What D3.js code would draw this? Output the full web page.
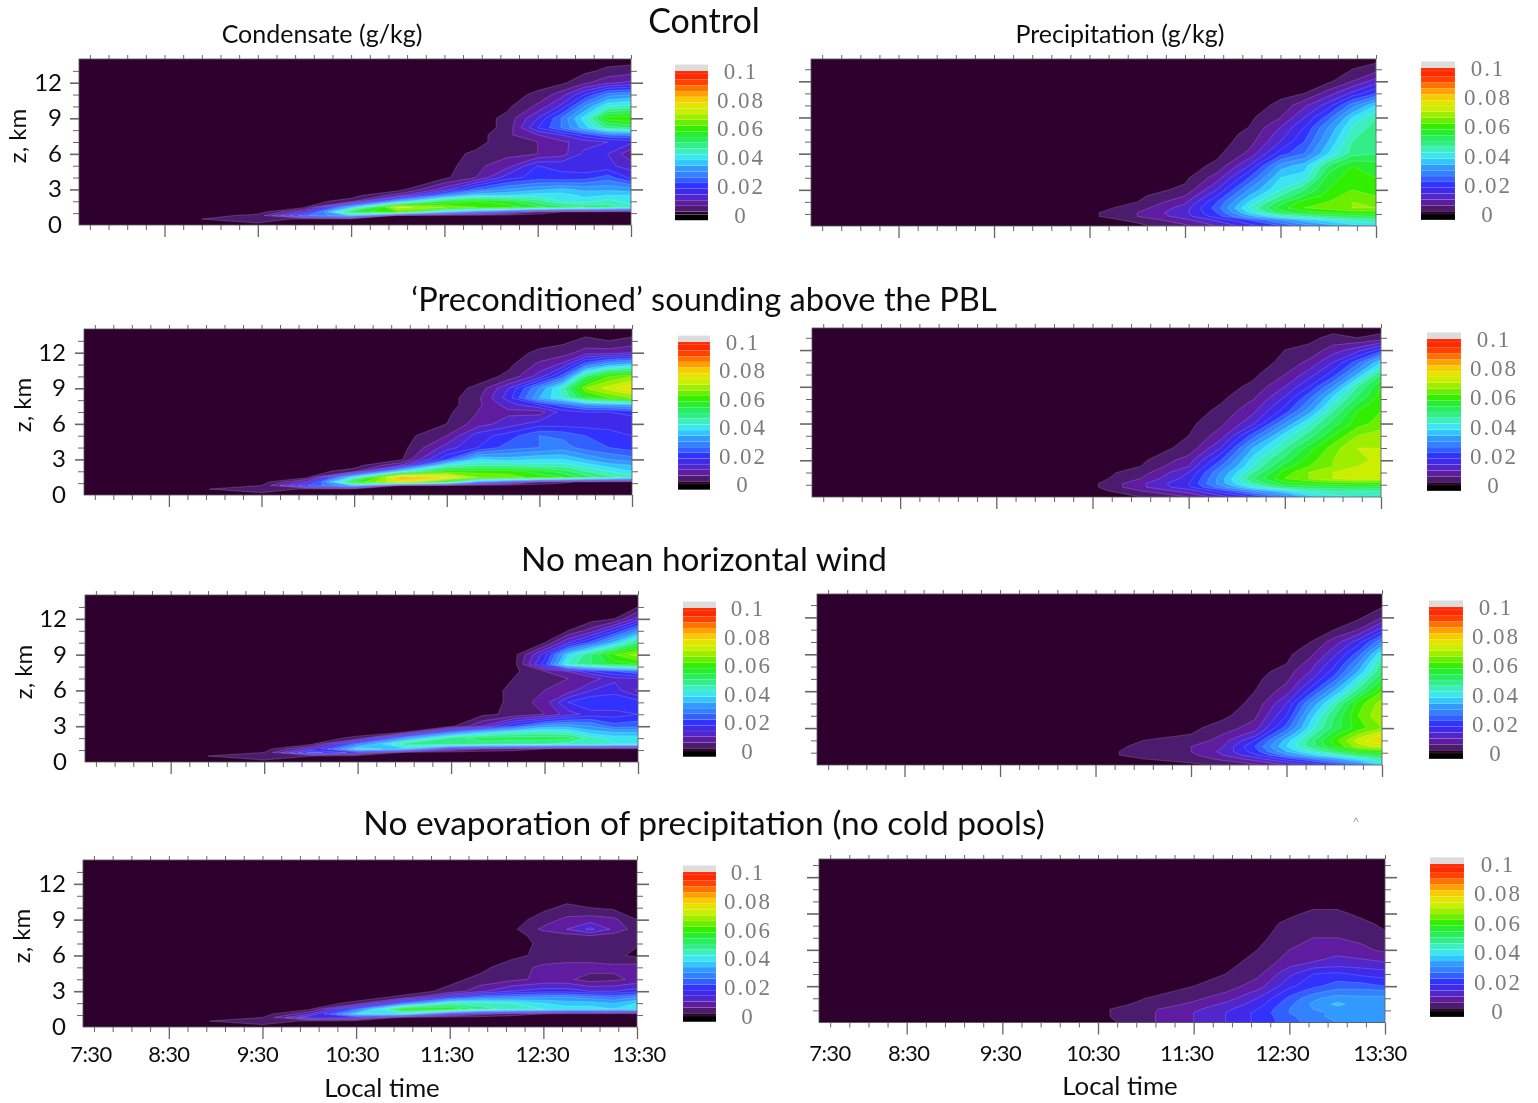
<!DOCTYPE html>
<html><head><meta charset="utf-8">
<script src="https://cdn.jsdelivr.net/npm/d3@7"></script>
<style>
html,body{margin:0;padding:0;background:#fff}
svg{display:block}
text{font-family:Lato,"Open Sans",sans-serif;fill:#111}
.cb text{font-family:"Liberation Serif",serif;fill:#7c7c7c;letter-spacing:1.9px}
</style></head><body>
<svg id="c" width="1538" height="1103"></svg>
<script>
// Time columns (minutes since midnight) and height rows (km) of the value grids. Values are in 0.001 g/kg.
const timeCols=[525,570,600,630,660,690,710,730,750,765,780,795,810];
const zRows=[0,.5,.8,1.1,1.5,2,2.5,3,4,5,6,7,7.6,8.2,9,10,11,12,13,14];
const condControl=[
[0,0,0,0,0,0,0,0,0,0,0,0,0],
[1,6,0,0,0,0,0,0,0,0,0,0,0],
[0,3,25,35,1,0,0,0,0,0,0,0,0],
[0,0,12,55,62,35,25,15,5,2,1,0,0],
[0,0,1,35,72,66,62,60,55,52,50,48,44],
[0,0,0,4,32,54,58,56,48,42,40,44,40],
[0,0,0,0,8,28,38,38,40,40,37,38,38],
[0,0,0,0,0,12,24,30,33,35,33,33,32],
[0,0,0,0,0,1,6,16,20,19,20,24,17],
[0,0,0,0,0,0,5,8,18,17,15,15,12],
[0,0,0,0,0,0,3,5,6,8,15,14,7],
[0,0,0,0,0,0,0,5,6,9,12,14,15],
[0,0,0,0,0,0,0,5,10,14,20,26,27],
[0,0,0,0,0,0,0,3,18,26,36,48,50],
[0,0,0,0,0,0,0,3,14,26,40,60,62],
[0,0,0,0,0,0,0,1,7,15,30,42,44],
[0,0,0,0,0,0,0,0,3,8,18,28,30],
[0,0,0,0,0,0,0,0,0,1,5,9,11],
[0,0,0,0,0,0,0,0,0,0,1,3,4],
[0,0,0,0,0,0,0,0,0,0,0,0,0]];
const precControl=[
[0,0,0,0,1,5,10,16,22,28,32,36,38],
[0,0,0,0,3,9,15,22,30,36,40,44,46],
[0,0,0,1,6,12,20,32,42,46,50,52,54],
[0,0,0,1,6,13,22,38,52,56,58,60,60],
[0,0,0,0,4,12,24,42,56,62,64,66,66],
[0,0,0,0,2,9,22,38,52,60,62,66,64],
[0,0,0,0,1,6,18,34,46,54,60,64,62],
[0,0,0,0,0,3,14,30,42,50,58,62,60],
[0,0,0,0,0,1,8,22,38,40,56,60,58],
[0,0,0,0,0,0,3,14,32,36,50,58,56],
[0,0,0,0,0,0,1,7,20,26,38,48,50],
[0,0,0,0,0,0,0,4,14,22,34,46,50],
[0,0,0,0,0,0,0,3,12,20,32,44,50],
[0,0,0,0,0,0,0,2,10,18,30,42,48],
[0,0,0,0,0,0,0,1,6,14,24,38,46],
[0,0,0,0,0,0,0,0,3,9,16,28,38],
[0,0,0,0,0,0,0,0,1,2,8,15,22],
[0,0,0,0,0,0,0,0,0,1,1,6,12],
[0,0,0,0,0,0,0,0,0,0,0,2,4],
[0,0,0,0,0,0,0,0,0,0,0,0,0]];
const condPrecond=[
[0,0,0,0,0,0,0,0,0,0,0,0,0],
[1,5,1,0,0,0,0,0,0,0,0,0,0],
[0,2,22,35,2,0,0,0,0,0,0,0,0],
[0,0,12,58,75,55,28,18,6,3,1,0,0],
[0,0,1,40,84,78,66,64,60,58,52,48,44],
[0,0,0,4,38,60,60,60,56,52,46,42,38],
[0,0,0,0,10,42,46,46,44,44,40,36,34],
[0,0,0,0,1,22,38,36,38,38,34,30,28],
[0,0,0,0,0,12,18,24,26,28,24,22,20],
[0,0,0,0,0,6,16,20,26,25,22,20,18],
[0,0,0,0,0,2,8,12,16,16,16,16,14],
[0,0,0,0,0,1,6,9,8,16,18,18,20],
[0,0,0,0,0,0,5,12,18,24,30,32,34],
[0,0,0,0,0,0,5,16,34,42,56,62,66],
[0,0,0,0,0,0,3,14,30,44,66,72,78],
[0,0,0,0,0,0,0,3,12,24,50,62,66],
[0,0,0,0,0,0,0,1,7,11,25,33,36],
[0,0,0,0,0,0,0,0,3,4,8,8,10],
[0,0,0,0,0,0,0,0,0,1,3,2,3],
[0,0,0,0,0,0,0,0,0,0,0,0,0]];
const precPrecond=[
[0,0,0,0,2,6,12,18,28,36,40,42,42],
[0,0,0,0,6,12,20,30,38,44,46,46,46],
[0,0,0,1,9,17,28,40,50,52,52,54,52],
[0,0,0,1,9,18,32,46,56,58,60,60,60],
[0,0,0,0,6,16,32,50,62,66,70,72,72],
[0,0,0,0,4,14,30,46,60,66,70,72,74],
[0,0,0,0,2,10,26,42,56,62,66,70,72],
[0,0,0,0,1,8,22,40,52,60,66,68,72],
[0,0,0,0,0,3,14,34,46,56,64,70,70],
[0,0,0,0,0,2,8,24,40,48,58,66,68],
[0,0,0,0,0,1,5,13,30,42,52,60,64],
[0,0,0,0,0,0,3,9,20,32,46,58,62],
[0,0,0,0,0,0,2,7,17,28,42,54,62],
[0,0,0,0,0,0,1,5,14,24,38,50,60],
[0,0,0,0,0,0,0,3,10,18,30,46,58],
[0,0,0,0,0,0,0,1,6,12,20,34,50],
[0,0,0,0,0,0,0,0,3,7,14,24,38],
[0,0,0,0,0,0,0,0,2,3,8,12,20],
[0,0,0,0,0,0,0,0,0,1,3,2,3],
[0,0,0,0,0,0,0,0,0,0,0,0,0]];
const condNoWind=[
[0,0,0,0,0,0,0,0,0,0,0,0,0],
[1,6,2,0,0,0,0,0,0,0,0,0,0],
[0,2,24,16,1,0,0,0,0,0,0,0,0],
[0,0,12,40,36,12,6,4,2,0,0,0,0],
[0,0,1,26,48,50,48,46,46,44,44,42,42],
[0,0,0,3,30,48,52,52,52,52,44,40,40],
[0,0,0,0,2,26,36,42,44,42,36,34,34],
[0,0,0,0,0,1,10,22,32,33,30,24,25],
[0,0,0,0,0,0,1,3,6,12,16,16,18],
[0,0,0,0,0,0,0,3,8,18,22,22,20],
[0,0,0,0,0,0,0,3,6,8,14,16,9],
[0,0,0,0,0,0,0,2,5,6,8,13,14],
[0,0,0,0,0,0,0,1,6,10,18,22,26],
[0,0,0,0,0,0,0,0,20,44,50,56,58],
[0,0,0,0,0,0,0,0,16,38,50,62,68],
[0,0,0,0,0,0,0,0,2,14,24,36,50],
[0,0,0,0,0,0,0,0,0,2,8,18,30],
[0,0,0,0,0,0,0,0,0,0,0,2,12],
[0,0,0,0,0,0,0,0,0,0,0,0,2],
[0,0,0,0,0,0,0,0,0,0,0,0,0]];
const precNoWind=[
[0,0,0,0,0,1,3,5,10,14,20,26,38],
[0,0,0,0,2,4,7,12,20,26,32,40,46],
[0,0,0,1,3,5,10,17,28,36,42,50,54],
[0,0,0,1,3,6,11,20,34,42,50,58,60],
[0,0,0,0,3,6,10,22,38,48,58,68,72],
[0,0,0,0,2,3,8,18,36,48,60,72,78],
[0,0,0,0,0,2,6,12,30,44,56,66,74],
[0,0,0,0,0,1,4,8,24,40,52,60,66],
[0,0,0,0,0,0,1,5,18,36,50,62,70],
[0,0,0,0,0,0,0,3,14,30,44,60,68],
[0,0,0,0,0,0,0,2,8,20,34,48,62],
[0,0,0,0,0,0,0,1,5,13,24,40,54],
[0,0,0,0,0,0,0,0,4,10,20,34,50],
[0,0,0,0,0,0,0,0,2,8,17,30,48],
[0,0,0,0,0,0,0,0,1,5,13,24,42],
[0,0,0,0,0,0,0,0,0,2,8,16,30],
[0,0,0,0,0,0,0,0,0,0,2,6,16],
[0,0,0,0,0,0,0,0,0,0,0,1,6],
[0,0,0,0,0,0,0,0,0,0,0,0,1],
[0,0,0,0,0,0,0,0,0,0,0,0,0]];
const condNoEvap=[
[0,0,0,0,0,0,0,0,0,0,0,0,0],
[1,5,1,0,0,0,0,0,0,0,0,0,0],
[0,2,18,16,1,0,0,0,0,0,0,0,0],
[0,0,9,38,40,16,8,4,2,0,0,0,0],
[0,0,1,24,58,58,48,44,42,40,40,38,40],
[0,0,0,3,24,44,44,42,38,36,36,34,38],
[0,0,0,0,3,18,26,28,30,30,28,26,30],
[0,0,0,0,0,3,9,14,16,16,14,14,16],
[0,0,0,0,0,1,3,5,7,7,4,5,7],
[0,0,0,0,0,0,1,4,7,8,8,7,8],
[0,0,0,0,0,0,0,1,3,3,3,3,1],
[0,0,0,0,0,0,0,0,3,4,4,3,2.5],
[0,0,0,0,0,0,0,1,3,4,5,4,3],
[0,0,0,0,0,0,0,1,7,10,15,9,4],
[0,0,0,0,0,0,0,0,4,7,8,7,2],
[0,0,0,0,0,0,0,0,1,3,2,1,1],
[0,0,0,0,0,0,0,0,0,0,0,0,0],
[0,0,0,0,0,0,0,0,0,0,0,0,0],
[0,0,0,0,0,0,0,0,0,0,0,0,0],
[0,0,0,0,0,0,0,0,0,0,0,0,0]];
const precNoEvap=[
[0,0,0,0,5,10,14,19,24,28,30,30,30],
[0,0,0,1,5,10,14,19,25,29,31,31,31],
[0,0,0,1,5,10,14,19,26,29,31,31,31],
[0,0,0,1,5,9,13,18,26,30,32,31,31],
[0,0,0,0,3,7,11,16,25,31,35,32,31],
[0,0,0,0,2,5,8,14,23,29,32,31,31],
[0,0,0,0,1,3,6,11,20,25,28,28,28],
[0,0,0,0,1,2,4,8,17,21,24,24,22],
[0,0,0,0,0,1,2,5,13,18,19,17,16],
[0,0,0,0,0,0,1,3,8,10,11,11,10],
[0,0,0,0,0,0,0,2,6,8,9,7,5],
[0,0,0,0,0,0,0,1,4,6,6,5,2],
[0,0,0,0,0,0,0,1,3,5,5,4,2],
[0,0,0,0,0,0,0,0,3,4,4,3,1],
[0,0,0,0,0,0,0,0,1,3,3,1,0],
[0,0,0,0,0,0,0,0,0,0,0,0,0],
[0,0,0,0,0,0,0,0,0,0,0,0,0],
[0,0,0,0,0,0,0,0,0,0,0,0,0],
[0,0,0,0,0,0,0,0,0,0,0,0,0],
[0,0,0,0,0,0,0,0,0,0,0,0,0]];
const levels=d3.range(2,99,4);
const legendLabels=[0,.02,.04,.06,.08,.1];
const zTicks=[0,3,6,9,12];
const timeLabels=["7:30","8:30","9:30","10:30","11:30","12:30","13:30"];
const labelMinutes=[510,570,630,690,750,810];
const colorVals=[0,4,8,14,20,26,32,38,42,48,54,60,66,72,78,82,86,90,94,100];
const colorHex=["#2e052e","#4c1a6e","#5e1ea0","#4a2ae0","#3030ff","#3377ff","#3399ff","#33ddff","#40eedd","#33ee88","#22ee44","#33ee00","#88ee00","#ccee00","#eee000","#ffb800","#ff8a00","#ff5a00","#ff2a00","#ff2a00"];

const color=d3.scaleLinear().domain(colorVals).range(colorHex);
const svg=d3.select("#c");
const defs=svg.append("defs");
defs.append("filter").attr("id","soft").attr("x","-5%").attr("y","-5%").attr("width","110%").attr("height","110%")
  .append("feGaussianBlur").attr("stdDeviation",0.55);
const root=svg.append("g").attr("filter","url(#soft)");

const panels=[
 {d:condControl,l:79,r:631,t:59,b:225,zt:14,cb:[675,708,71,214.5,741],zl:[18,136],labx:62},
 {d:precControl,l:811,r:1376,t:59,b:226,zt:13.85,cb:[1421,1455,68,214,1488]},
 {d:condPrecond,l:84,r:632,t:329,b:495,zt:14,cb:[678,710,342,484,743],zl:[23,405],labx:66},
 {d:precPrecond,l:812,r:1381,t:328,b:497,zt:13.8,cb:[1427,1461,339,485,1494]},
 {d:condNoWind,l:85,r:638,t:595,b:762,zt:14,cb:[683,716,608,751,748],zl:[24,672],labx:67},
 {d:precNoWind,l:817,r:1382,t:594,b:765,zt:13.9,cb:[1429,1463,607,753,1496]},
 {d:condNoEvap,l:83,r:637,t:860,b:1027,zt:14,cb:[683,716,872,1016,748],zl:[22,936],labx:66,bottom:true,nudge:[0,-5,-4,-3,-1,2]},
 {d:precNoEvap,l:819,r:1385,t:859,b:1022.5,zt:13.5,cb:[1430,1464,864,1011,1498],bottom:true,nudge:[2,-2,-5,-7,-7,-5]}
];
const nc=timeCols.length,nr=zRows.length;
const contours=d3.contours().size([nc,nr]).smooth(true).thresholds(levels);

panels.forEach((p,i)=>{
  const x=d3.scaleLinear().domain([455,810]).range([p.l,p.r]);
  const y=d3.scaleLinear().domain([0,p.zt]).range([p.b,p.t]);
  const colX=d3.scaleLinear().domain(d3.range(nc)).range(timeCols.map(x)).clamp(true);
  const rowY=d3.scaleLinear().domain(d3.range(nr)).range(zRows.map(y)).clamp(true);
  const path=d3.geoPath(d3.geoTransform({point(a,b){this.stream.point(colX(a-.5),rowY(b-.5));}}));
  const g=root.append("g");
  defs.append("clipPath").attr("id","clip"+i).append("rect").attr("x",p.l).attr("y",p.t).attr("width",p.r-p.l).attr("height",p.b-p.t);
  g.append("rect").attr("x",p.l).attr("y",p.t).attr("width",p.r-p.l).attr("height",p.b-p.t).attr("fill",color(0));
  g.append("g").attr("clip-path",`url(#clip${i})`).selectAll("path").data(contours(d3.merge(p.d))).join("path")
    .attr("d",path).attr("fill",c=>color(c.value+2)).attr("stroke","rgba(255,255,255,.28)").attr("stroke-width",.6);
  g.append("rect").attr("x",p.l).attr("y",p.t).attr("width",p.r-p.l).attr("height",p.b-p.t).attr("fill","none").attr("stroke","#555").attr("stroke-width",.8);

  // axes through d3.axis
  const major=labelMinutes, minor=d3.range(462,810,12).filter(m=>(m-510)%60!==0);
  const ax=(gen,vals,size,w)=>{
    const a=g.append("g").call(gen.tickValues(vals).tickSize(size).tickFormat(""));
    a.select(".domain").remove();
    a.selectAll("line").attr("stroke","#666").attr("stroke-width",w);
    return a;
  };
  const bx=()=>d3.axisBottom(x), tx=()=>d3.axisTop(x);
  ax(bx(),minor,5,1).attr("transform",`translate(0,${p.b})`);
  ax(bx(),major,12,1.3).attr("transform",`translate(0,${p.b})`);
  ax(tx(),minor,4,1).attr("transform",`translate(0,${p.t})`);
  ax(tx(),major,4,1).attr("transform",`translate(0,${p.t})`);
  const zMinor=d3.range(1,p.zt).filter(z=>z%3!==0);
  ax(d3.axisLeft(y),zMinor,6,1).attr("transform",`translate(${p.l},0)`);
  ax(d3.axisLeft(y),zTicks.slice(1),i%2?12:9,1.6).attr("transform",`translate(${p.l},0)`);
  ax(d3.axisRight(y),zMinor,6,1).attr("transform",`translate(${p.r},0)`);
  ax(d3.axisRight(y),zTicks.slice(1),12,1.6).attr("transform",`translate(${p.r},0)`);

  if(p.labx){
    g.selectAll(".zl").data(zTicks).join("text").attr("x",p.labx).attr("y",z=>y(z)+8).attr("text-anchor","end")
      .attr("font-size",24).text(z=>z);
    g.append("text").attr("transform",`translate(${p.zl[0]+8},${p.zl[1]}) rotate(-90)`).attr("text-anchor","middle")
      .attr("font-size",24).text("z, km");
  }
  if(p.bottom){
    const ly=p.b+(i===6?35:38);
    g.selectAll(".tl").data(labelMinutes).join("text").attr("x",(m,k)=>x(m)+p.nudge[k]).attr("y",ly).attr("text-anchor","middle")
      .attr("font-size",22).attr("letter-spacing",-.6).text((m,k)=>timeLabels[k+1]);
    g.append("text").attr("x",i===6?91:830).attr("y",ly).attr("text-anchor","middle").attr("font-size",22).attr("letter-spacing",-.6).text(timeLabels[0]);
    g.append("text").attr("x",i===6?382:1120).attr("y",i===6?1097:1095).attr("text-anchor","middle").attr("font-size",25.8).text("Local time");
  }
  // colour bar
  const [cl,cr,y1,y0,lx]=p.cb;
  const vy=d3.scaleLinear().domain([0,100]).range([y0,y1]);
  const cb=g.append("g").attr("class","cb");
  cb.append("rect").attr("x",cl).attr("width",cr-cl).attr("y",vy(104.5)).attr("height",vy(100)-vy(104.5)).attr("fill","#dcdcdc");
  cb.append("rect").attr("x",cl).attr("width",cr-cl).attr("y",vy(0)).attr("height",vy(-4)-vy(0)).attr("fill","#000");
  const bands=[-2].concat(levels);
  cb.selectAll(".b").data(bands).join("rect").attr("x",cl).attr("width",cr-cl)
    .attr("y",t=>vy(Math.min(t+4,100))).attr("height",t=>vy(Math.max(t,0))-vy(Math.min(t+4,100)))
    .attr("fill",t=>color(Math.max(t+2,0))).attr("stroke","rgba(255,255,255,.18)").attr("stroke-width",.4);
  cb.selectAll("text").data(legendLabels).join("text").attr("x",lx).attr("y",v=>vy(v*1000)+8).attr("text-anchor","middle")
    .attr("font-size",23).text(v=>v);
});
const title=(t,x,y,s)=>root.append("text").attr("x",x).attr("y",y).attr("text-anchor","middle").attr("font-size",s).text(t);
title("Control",704,33,34);
title("Condensate (g/kg)",322,43,25);
title("Precipitation (g/kg)",1120,43,25);
title("\u2018Preconditioned\u2019 sounding above the PBL",704,311,32.6);
title("No mean horizontal wind",704,571,33.3);
title("No evaporation of precipitation (no cold pools)",704,835,33.5);
root.append("text").attr("x",1356).attr("y",826).attr("text-anchor","middle").attr("font-size",12).attr("style","fill:#999").text("^");
</script></body></html>
